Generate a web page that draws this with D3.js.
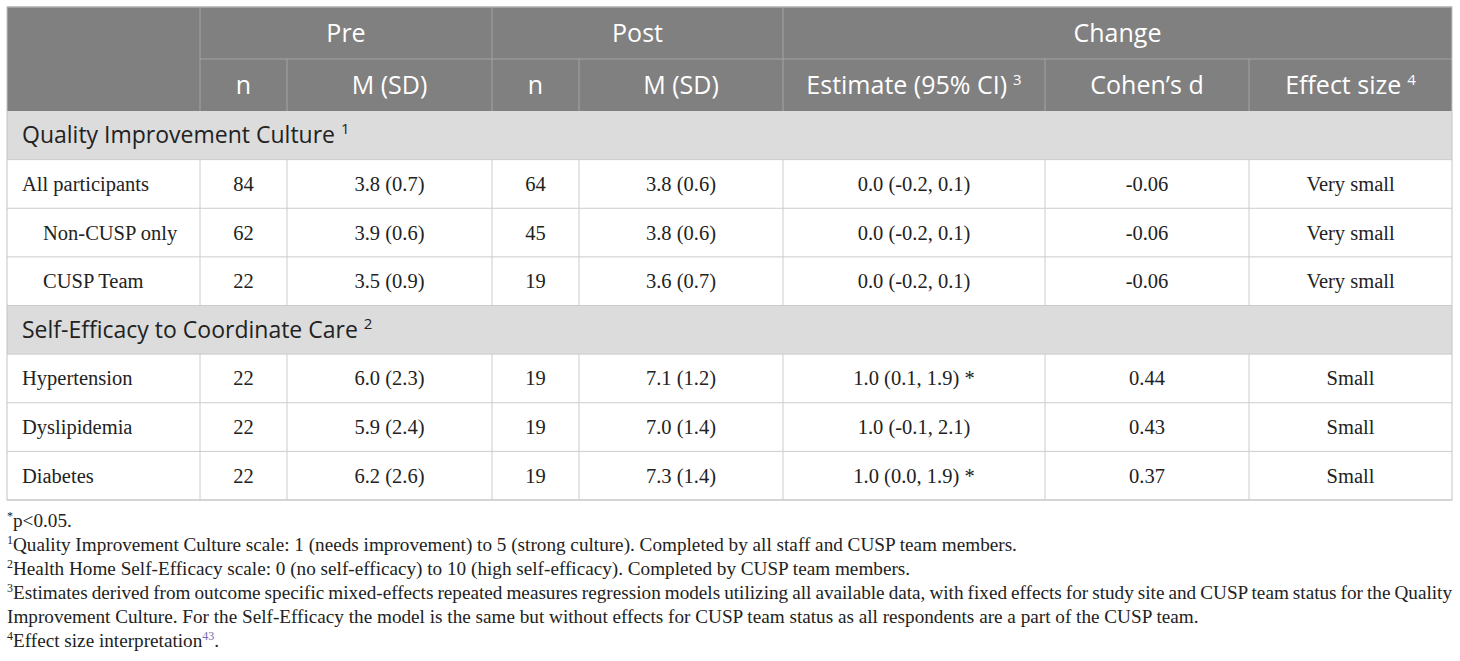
<!DOCTYPE html>
<html>
<head>
<meta charset="utf-8">
<script src="https://cdn.jsdelivr.net/npm/d3@7"></script>
<style>
  body { margin: 0; background: #fff; }
  svg { display: block; }
</style>
</head>
<body>
<svg id="tableSvg" width="1460" height="661"></svg>
<script>
// table content
const groups = ["Pre", "Post", "Change"];
const groupSpans = [[1, 3], [3, 5], [5, 8]];
const subHeaders = ["n", "M (SD)", "n", "M (SD)", "Estimate (95% CI)", "Cohen\u2019s d", "Effect size"];
const subHeaderNotes = ["", "", "", "", "3", "", "4"];
const sections = ["Quality Improvement Culture", "Self-Efficacy to Coordinate Care"];
const sectionNotes = ["1", "2"];
const rowLabels = ["All participants", "Non-CUSP only", "CUSP Team", "Hypertension", "Dyslipidemia", "Diabetes"];
const rowSection = [0, 0, 0, 1, 1, 1];
const rowIndent = [false, true, true, false, false, false];
const preN = [84, 62, 22, 22, 22, 22];
const preM = ["3.8 (0.7)", "3.9 (0.6)", "3.5 (0.9)", "6.0 (2.3)", "5.9 (2.4)", "6.2 (2.6)"];
const postN = [64, 45, 19, 19, 19, 19];
const postM = ["3.8 (0.6)", "3.8 (0.6)", "3.6 (0.7)", "7.1 (1.2)", "7.0 (1.4)", "7.3 (1.4)"];
const estimates = ["0.0 (-0.2, 0.1)", "0.0 (-0.2, 0.1)", "0.0 (-0.2, 0.1)", "1.0 (0.1, 1.9) *", "1.0 (-0.1, 2.1)", "1.0 (0.0, 1.9) *"];
const cohensD = ["-0.06", "-0.06", "-0.06", "0.44", "0.43", "0.37"];
const effectSizes = ["Very small", "Very small", "Very small", "Small", "Small", "Small"];
const footSup = ["*", "1", "2", "3", "", "4"];
const footText = [
  "p<0.05.",
  "Quality Improvement Culture scale: 1 (needs improvement) to 5 (strong culture). Completed by all staff and CUSP team members.",
  "Health Home Self-Efficacy scale: 0 (no self-efficacy) to 10 (high self-efficacy). Completed by CUSP team members.",
  "Estimates derived from outcome specific mixed-effects repeated measures regression models utilizing all available data, with fixed effects for study site and CUSP team status for the Quality",
  "Improvement Culture. For the Self-Efficacy the model is the same but without effects for CUSP team status as all respondents are a part of the CUSP team.",
  "Effect size interpretation"
];
const footRef = ["", "", "", "", "", "43"];

const svg = d3.select("#tableSvg");
const sans = "'Open Sans', 'Noto Sans', sans-serif";
const serif = "'Liberation Serif', 'Times New Roman', serif";

// column edges through a piecewise scale
const x = d3.scaleLinear()
  .domain(d3.range(9))
  .range([7, 200, 287, 492, 579, 783, 1045, 1249, 1452]);
const yHead = d3.scaleLinear().domain([0, 2]).range([7, 111]);
const yBody = d3.scaleLinear().domain([0, 8]).range([111, 500]);

// body rows: section rows interleaved with data rows
const bodyRows = [];
sections.forEach((s, si) => {
  bodyRows.push({ type: "section", label: s, note: sectionNotes[si] });
  rowLabels.forEach((lab, i) => {
    if (rowSection[i] === si) bodyRows.push({ type: "data", i: i });
  });
});

// header background
svg.append("rect")
  .attr("x", x(0)).attr("y", yHead(0))
  .attr("width", x(8) - x(0)).attr("height", yHead(2) - yHead(0))
  .attr("fill", "#808080");

// section backgrounds
svg.append("g").selectAll("rect")
  .data(bodyRows.map((r, k) => ({ r, k })).filter((d) => d.r.type === "section"))
  .join("rect")
  .attr("x", x(0)).attr("y", (d) => yBody(d.k))
  .attr("width", x(8) - x(0)).attr("height", yBody(1) - yBody(0))
  .attr("fill", "#dcdcdc");

// header grid lines
const hg = svg.append("g").attr("stroke", "#a3a3a3").attr("stroke-width", 1);
hg.append("line").attr("x1", x(1)).attr("x2", x(8))
  .attr("y1", yHead(1)).attr("y2", yHead(1));
[1, 3, 5].forEach((c) => {
  hg.append("line").attr("x1", x(c)).attr("x2", x(c))
    .attr("y1", yHead(0)).attr("y2", yHead(2));
});
[2, 4, 6, 7].forEach((c) => {
  hg.append("line").attr("x1", x(c)).attr("x2", x(c))
    .attr("y1", yHead(1)).attr("y2", yHead(2));
});

// body grid lines
const bg = svg.append("g").attr("stroke", "#cccccc").attr("stroke-width", 1);
d3.range(1, 9).forEach((k) => {
  bg.append("line").attr("x1", x(0)).attr("x2", x(8))
    .attr("y1", yBody(k)).attr("y2", yBody(k));
});
bodyRows.forEach((r, k) => {
  if (r.type !== "data") return;
  d3.range(1, 8).forEach((c) => {
    bg.append("line").attr("x1", x(c)).attr("x2", x(c))
      .attr("y1", yBody(k)).attr("y2", yBody(k + 1));
  });
});
// outer border
svg.append("rect")
  .attr("x", x(0)).attr("y", yHead(0))
  .attr("width", x(8) - x(0)).attr("height", yBody(8) - yHead(0))
  .attr("fill", "none").attr("stroke", "#c4c4c4");
svg.append("line").attr("x1", x(0)).attr("x2", x(8))
  .attr("y1", yHead(0)).attr("y2", yHead(0)).attr("stroke", "#a3a3a3");

// header texts
svg.append("g").selectAll("text")
  .data(groups)
  .join("text")
  .attr("x", (d, i) => (x(groupSpans[i][0]) + x(groupSpans[i][1])) / 2)
  .attr("y", (yHead(0) + yHead(1)) / 2 + 9)
  .attr("text-anchor", "middle")
  .style("font-family", sans).style("font-size", "25px").style("fill", "#fff")
  .text((d) => d);

const sub = svg.append("g").selectAll("text")
  .data(subHeaders)
  .join("text")
  .attr("x", (d, i) => (x(i + 1) + x(i + 2)) / 2)
  .attr("y", (yHead(1) + yHead(2)) / 2 + 9)
  .attr("text-anchor", "middle")
  .style("font-family", sans).style("font-size", "25px").style("fill", "#fff");
sub.append("tspan").text((d) => d);
sub.filter((d, i) => subHeaderNotes[i])
  .append("tspan")
  .attr("dx", 6).attr("dy", -9)
  .style("font-size", "15px")
  .text((d) => subHeaderNotes[subHeaders.indexOf(d)]);

// section texts
const secText = svg.append("g").selectAll("text")
  .data(bodyRows.map((r, k) => ({ r, k })).filter((d) => d.r.type === "section"))
  .join("text")
  .attr("x", x(0) + 15)
  .attr("y", (d) => (yBody(d.k) + yBody(d.k + 1)) / 2 + 8)
  .style("font-family", sans).style("font-size", "23px").style("fill", "#222");
secText.append("tspan").text((d) => d.r.label);
secText.append("tspan")
  .attr("dx", 6).attr("dy", -9)
  .style("font-size", "15px")
  .text((d) => d.r.note);

// data cells
const cellCols = [preN, preM, postN, postM, estimates, cohensD, effectSizes];
const dataRows = bodyRows.map((r, k) => ({ r, k })).filter((d) => d.r.type === "data");
const rowG = svg.append("g").selectAll("g")
  .data(dataRows)
  .join("g")
  .attr("transform", (d) => `translate(0,${(yBody(d.k) + yBody(d.k + 1)) / 2 + 7})`)
  .style("font-family", serif).style("font-size", "20.5px").style("fill", "#222");
rowG.append("text")
  .attr("x", (d) => x(0) + (rowIndent[d.r.i] ? 36 : 15))
  .text((d) => rowLabels[d.r.i]);
cellCols.forEach((col, c) => {
  rowG.append("text")
    .attr("x", (x(c + 1) + x(c + 2)) / 2)
    .attr("text-anchor", "middle")
    .text((d) => col[d.r.i]);
});

// footnotes
const footY = d3.scaleLinear().domain([0, 5]).range([527, 647]);
const foot = svg.append("g").selectAll("text")
  .data(footText)
  .join("text")
  .attr("x", x(0))
  .attr("y", (d, i) => footY(i))
  .style("font-family", serif).style("font-size", "19.2px").style("fill", "#222");
foot.append("tspan")
  .attr("dy", -7)
  .style("font-size", "12px")
  .text((d, i) => footSup[i]);
foot.append("tspan")
  .attr("dy", (d, i) => (footSup[i] ? 7 : 0))
  .attr("class", "main")
  .text((d) => d);
foot.filter((d, i) => footRef[i])
  .each(function (d) {
    const t = d3.select(this);
    t.append("tspan").attr("dy", -7).style("font-size", "12px")
      .style("fill", "#6f6fb5").text(footRef[footText.indexOf(d)]);
    t.append("tspan").attr("dy", 7).text(".");
  });

// justify the wrapped line of note 3 to the table width
foot.filter((d, i) => i === 3).each(function () {
  const main = d3.select(this).select("tspan.main");
  const w = this.getComputedTextLength();
  const spaces = (main.text().match(/ /g) || []).length;
  const extra = (x(8) - x(0)) - w;
  if (spaces) main.style("word-spacing", extra / spaces + "px");
});
</script>
</body>
</html>
